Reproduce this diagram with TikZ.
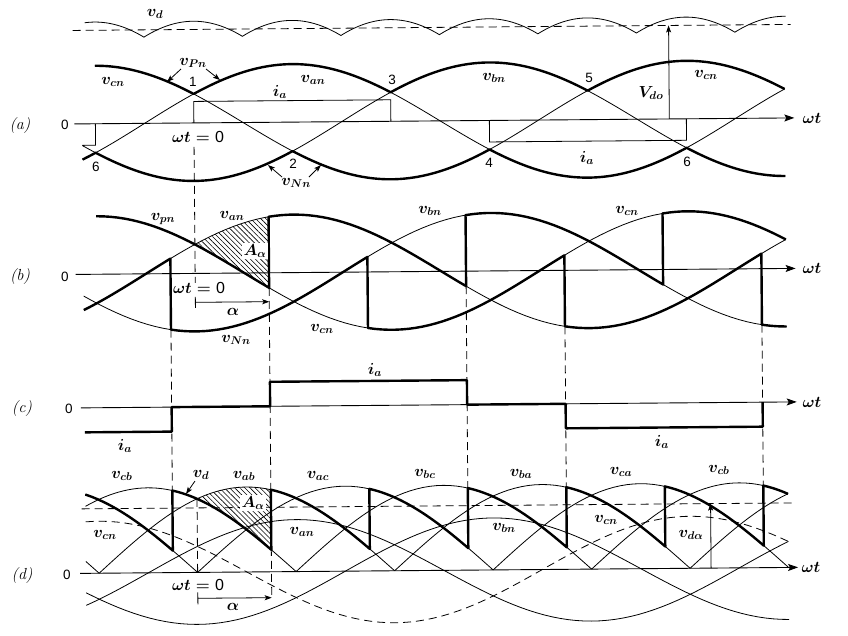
\documentclass[tikz,border=0pt]{standalone}
\usepackage{fix-cm}
\usepackage{fontspec}
\setsansfont{Liberation Sans}
\usetikzlibrary{arrows.meta,patterns.meta}
\newcommand\pXZ{195.5}
\newcommand\pDG{1.6417}
\newcommand\tx[1]{\pXZ+(#1)*\pDG}
\newcommand\pYA{121}
\newcommand\pVA{58}
\newcommand\pIA{21.5}
\newcommand\pYB{271.5}
\newcommand\pYC{405}
\newcommand\pIC{24.5}
\newcommand\pYD{570.5}
\newcommand\pVP{52}
\newcommand\pVL{85}
\begin{document}
\begin{tikzpicture}[x=1pt,y=-1pt,
  thinc/.style={line width=0.8pt},
  thickc/.style={line width=2.4pt,line join=round},
  axisc/.style={line width=0.9pt,-{Stealth[length=10pt,width=7pt,inset=2pt]}},
  dsh/.style={line width=0.8pt,dash pattern=on 8pt off 5pt},
  ptr/.style={line width=0.8pt,-{Stealth[length=7pt,width=5pt,inset=1.5pt]}},
  lbl/.style={font=\fontsize{16}{18}\selectfont\boldmath,inner sep=0pt},
  tag/.style={font=\fontsize{16}{18}\selectfont\itshape,inner sep=0pt},
  num/.style={font=\sffamily\fontsize{13.5}{15}\selectfont,inner sep=0pt},
  hatch/.style={pattern={Lines[angle=-45,distance=3.6pt,line width=0.6pt]}},
  clear/.style={fill=white,inner sep=1.2pt},
]
\useasboundingbox[fill=white] (0,0) rectangle (848,635);
\begin{scope}[rotate around={0.48:(424,317)}]
% ================= panel (a) =================
\draw[axisc] (76,\pYA) -- (796,\pYA);
\draw[dsh] (75,27.5) -- (793,27.5);
\draw[thinc] plot[domain=-66:361,samples=428] ({\tx{\x}},{34.8-15.5*(cos(mod(\x+90,60)-30)-0.8660)/0.1340});
\draw[thinc] plot[domain=-68:360,samples=90] ({\tx{\x}},{\pYA-\pVA*cos(\x-60)});
\draw[thinc] plot[domain=-68:360,samples=90] ({\tx{\x}},{\pYA-\pVA*cos(\x-180)});
\draw[thinc] plot[domain=-60:360,samples=90] ({\tx{\x}},{\pYA-\pVA*cos(\x+60)});
\draw[thickc] plot[domain=-60:360,samples=211] ({\tx{\x}},{\pYA-\pVA*max(cos(\x-60),cos(\x-180),cos(\x+60))});
\draw[thickc] plot[domain=-68:360,samples=215] ({\tx{\x}},{\pYA-\pVA*min(cos(\x-60),cos(\x-180),cos(\x+60))});
\draw[thinc] ({\tx{-68}},{\pYA+\pIA}) -- ({\tx{-60}},{\pYA+\pIA}) -- ({\tx{-60}},\pYA);
\draw[thinc] ({\tx{0}},\pYA) -- ({\tx{0}},{\pYA-\pIA}) -- ({\tx{120}},{\pYA-\pIA}) -- ({\tx{120}},\pYA);
\draw[thinc] ({\tx{180}},\pYA) -- ({\tx{180}},{\pYA+\pIA}) -- ({\tx{300}},{\pYA+\pIA}) -- ({\tx{300}},\pYA);
\draw[ptr] (671,\pYA) -- (671,27.5);
\draw[dsh] ({\tx{0}},145) -- ({\tx{0}},281);
% ================= panel (b) =================
\fill[hatch] plot[domain=0:45,samples=20] ({\tx{\x}},{\pYB-\pVA*cos(\x-60)}) -- plot[domain=45:0,samples=20] ({\tx{\x}},{\pYB-\pVA*cos(\x+60)}) -- cycle;
\draw[axisc] (76,\pYB) -- (796,\pYB);
\draw[thinc] plot[domain=-68:360,samples=90] ({\tx{\x}},{\pYB-\pVA*cos(\x-60)});
\draw[thinc] plot[domain=-68:360,samples=90] ({\tx{\x}},{\pYB-\pVA*cos(\x-180)});
\draw[thinc] plot[domain=-60:360,samples=90] ({\tx{\x}},{\pYB-\pVA*cos(\x+60)});
\draw[thickc] plot[domain=-60:45,samples=25] ({\tx{\x}},{\pYB-\pVA*cos(\x+60)})
  -- plot[domain=45:165,samples=30] ({\tx{\x}},{\pYB-\pVA*cos(\x-60)})
  -- plot[domain=165:285,samples=30] ({\tx{\x}},{\pYB-\pVA*cos(\x-180)})
  -- plot[domain=285:360,samples=20] ({\tx{\x}},{\pYB-\pVA*cos(\x+60)});
\draw[thickc] plot[domain=-68:-15,samples=15] ({\tx{\x}},{\pYB-\pVA*cos(\x-60)})
  -- plot[domain=-15:105,samples=30] ({\tx{\x}},{\pYB-\pVA*cos(\x-180)})
  -- plot[domain=105:225,samples=30] ({\tx{\x}},{\pYB-\pVA*cos(\x+60)})
  -- plot[domain=225:345,samples=30] ({\tx{\x}},{\pYB-\pVA*cos(\x-60)})
  -- plot[domain=345:360,samples=6] ({\tx{\x}},{\pYB-\pVA*cos(\x-180)});
\draw[ptr] ({\tx{0}},300.4) -- ({\tx{45}},300.4);
\draw[thinc] ({\tx{0}},295) -- ({\tx{0}},306);
% dashed verticals
\draw[dsh] ({\tx{-15}},327.5) -- ({\tx{-15}},488.4);
\draw[dsh] ({\tx{45}},286.5) -- ({\tx{45}},596.4);
\draw[dsh] ({\tx{165}},286.5) -- ({\tx{165}},488.4);
\draw[dsh] ({\tx{225}},327.5) -- ({\tx{225}},488.4);
\draw[dsh] ({\tx{345}},327.5) -- ({\tx{345}},488.4);
% ================= panel (c) =================
\draw[axisc] (80,\pYC) -- (796,\pYC);
\draw[thickc] ({\tx{-68}},{\pYC+\pIC}) -- ({\tx{-15}},{\pYC+\pIC}) -- ({\tx{-15}},\pYC) -- ({\tx{45}},\pYC)
  -- ({\tx{45}},{\pYC-\pIC}) -- ({\tx{165}},{\pYC-\pIC}) -- ({\tx{165}},\pYC) -- ({\tx{225}},\pYC)
  -- ({\tx{225}},{\pYC+\pIC}) -- ({\tx{345}},{\pYC+\pIC}) -- ({\tx{345}},\pYC);
% ================= panel (d) =================
\fill[hatch] plot[domain=0:45,samples=20] ({\tx{\x}},{\pYD-\pVL*cos(\x-30)}) -- plot[domain=45:0,samples=20] ({\tx{\x}},{\pYD-\pVL*cos(\x+30)}) -- cycle;
\draw[axisc] (78,\pYD) -- (796,\pYD);
\foreach \p/\a/\b in {-150/-68/-60,-90/-68/0,-30/-68/60,30/-60/120,90/0/180,150/60/240,210/120/300,270/180/360,330/240/360,390/300/360}
  \draw[thinc] plot[domain=\a:\b,samples=45] ({\tx{\x}},{\pYD-\pVL*cos(\x-(\p))});
\draw[thinc] plot[domain=-68:360,samples=90] ({\tx{\x}},{\pYD-\pVP*cos(\x-60)});
\draw[thinc] plot[domain=-68:360,samples=90] ({\tx{\x}},{\pYD-\pVP*cos(\x-180)});
\draw[dsh] plot[domain=-68:360,samples=90] ({\tx{\x}},{\pYD-\pVP*cos(\x+60)});
\draw[dsh] (80,506) -- (795,506);
\draw[ptr] (709,\pYD) -- (709,506);
\draw[thickc] plot[domain=-68:-15,samples=15] ({\tx{\x}},{\pYD-\pVL*cos(\x+90)})
  -- plot[domain=-15:45,samples=20] ({\tx{\x}},{\pYD-\pVL*cos(\x+30)})
  -- plot[domain=45:105,samples=20] ({\tx{\x}},{\pYD-\pVL*cos(\x-30)})
  -- plot[domain=105:165,samples=20] ({\tx{\x}},{\pYD-\pVL*cos(\x-90)})
  -- plot[domain=165:225,samples=20] ({\tx{\x}},{\pYD-\pVL*cos(\x-150)})
  -- plot[domain=225:285,samples=20] ({\tx{\x}},{\pYD-\pVL*cos(\x-210)})
  -- plot[domain=285:345,samples=20] ({\tx{\x}},{\pYD-\pVL*cos(\x-270)})
  -- plot[domain=345:360,samples=6] ({\tx{\x}},{\pYD-\pVL*cos(\x-330)});
\draw[dsh] ({\tx{0}},496.9) -- ({\tx{0}},\pYD);
\draw[ptr] ({\tx{0}},596.4) -- ({\tx{45}},596.4);
\draw[thinc] ({\tx{0}},590.5) -- ({\tx{0}},602.5);
\end{scope}
% ================= labels (a) =================
\node[lbl] (avd) at (155,14) {$v_d$};
\node[lbl] (avpn) at (193,63) {$v_{Pn}$};
\draw[ptr] (181,69) -- (167,82);
\draw[ptr] (206,69) -- (220,80);
\node[num] (a1) at (193,82) {1};
\node[lbl] (avcn) at (113,82) {$v_{cn}$};
\node[lbl] (avan) at (313,80) {$v_{an}$};
\node[num] (a3) at (392,80) {3};
\node[lbl] (aia) at (280,92) {$i_a$};
\node[tag] (alab) at (20,126) {(a)};
\node[num] (a0) at (65,125) {0};
\node[lbl] (awt0) at (198,137) {$\omega t = \textsf{\mdseries 0}$};
\node[num] (a6) at (96,167) {6};
\node[num] (a2) at (293,164) {2};
\node[lbl] (avnn) at (296,183) {$v_{Nn}$};
\draw[ptr] (282,177) -- (268,165);
\draw[ptr] (309,177) -- (321,165);
\node[lbl] (avbn) at (494,78) {$v_{bn}$};
\node[num] (a4) at (489,163) {4};
\node[num] (a5) at (589,78) {5};
\node[lbl] (avcn2) at (706,75) {$v_{cn}$};
\node[lbl] (avdo) at (651,93) {$V_{do}$};
\node[lbl] (aia2) at (587,158) {$i_a$};
\node[num] (a6b) at (687,162) {6};
\node[lbl] (awt) at (812,118) {$\omega t$};
% ================= labels (b) =================
\node[lbl] (bvpn) at (163,219) {$v_{pn}$};
\node[lbl] (bvan) at (232,216) {$v_{an}$};
\node[lbl,clear] (bA) at (255,251) {$A_\alpha$};
\node[lbl] (bvbn) at (430,211) {$v_{bn}$};
\node[lbl] (bvcn) at (627,211) {$v_{cn}$};
\node[tag] (blab) at (20,277) {(b)};
\node[num] (b0) at (65,277) {0};
\node[lbl] (bwt0) at (199,288) {$\omega t = \textsf{\mdseries 0}$};
\node[lbl] (balpha) at (233,312) {$\alpha$};
\node[lbl] (bvnn) at (236,340) {$v_{Nn}$};
\node[lbl] (bvcn2) at (322,329) {$v_{cn}$};
\node[lbl] (bwt) at (812,268) {$\omega t$};
% ================= labels (c) =================
\node[tag] (clab) at (22,409) {(c)};
\node[num] (c0) at (69,409) {0};
\node[lbl] (cia1) at (125,446) {$i_a$};
\node[lbl] (cia2) at (375,370) {$i_a$};
\node[lbl] (cia3) at (662,442) {$i_a$};
\node[lbl] (cwt) at (812,402) {$\omega t$};
% ================= labels (d) =================
\node[lbl] (dvcb) at (122,476) {$v_{cb}$};
\node[lbl] (dvd) at (201,475) {$v_d$};
\draw[ptr] (195,481) -- (186,494);
\node[lbl] (dvab) at (244,476) {$v_{ab}$};
\node[lbl] (dvac) at (318,476) {$v_{ac}$};
\node[lbl,clear] (dA) at (253,503) {$A_\alpha$};
\node[lbl] (dvcn) at (105,535) {$v_{cn}$};
\node[lbl] (dvan) at (302,532) {$v_{an}$};
\node[tag] (dlab) at (22,575) {(d)};
\node[num] (d0) at (67,575) {0};
\node[lbl] (dwt0) at (198,585) {$\omega t = \textsf{\mdseries 0}$};
\node[lbl] (dalpha) at (233,607) {$\alpha$};
\node[lbl] (dvbc) at (425,474) {$v_{bc}$};
\node[lbl] (dvba) at (521,474) {$v_{ba}$};
\node[lbl] (dvca) at (621,472) {$v_{ca}$};
\node[lbl] (dvcb2) at (719,470) {$v_{cb}$};
\node[lbl] (dvbn) at (504,528) {$v_{bn}$};
\node[lbl] (dvcn2) at (606,520) {$v_{cn}$};
\node[lbl] (dvda) at (691,535) {$v_{d\alpha}$};
\node[lbl] (dwt) at (811,567) {$\omega t$};
\end{tikzpicture}
\end{document}
